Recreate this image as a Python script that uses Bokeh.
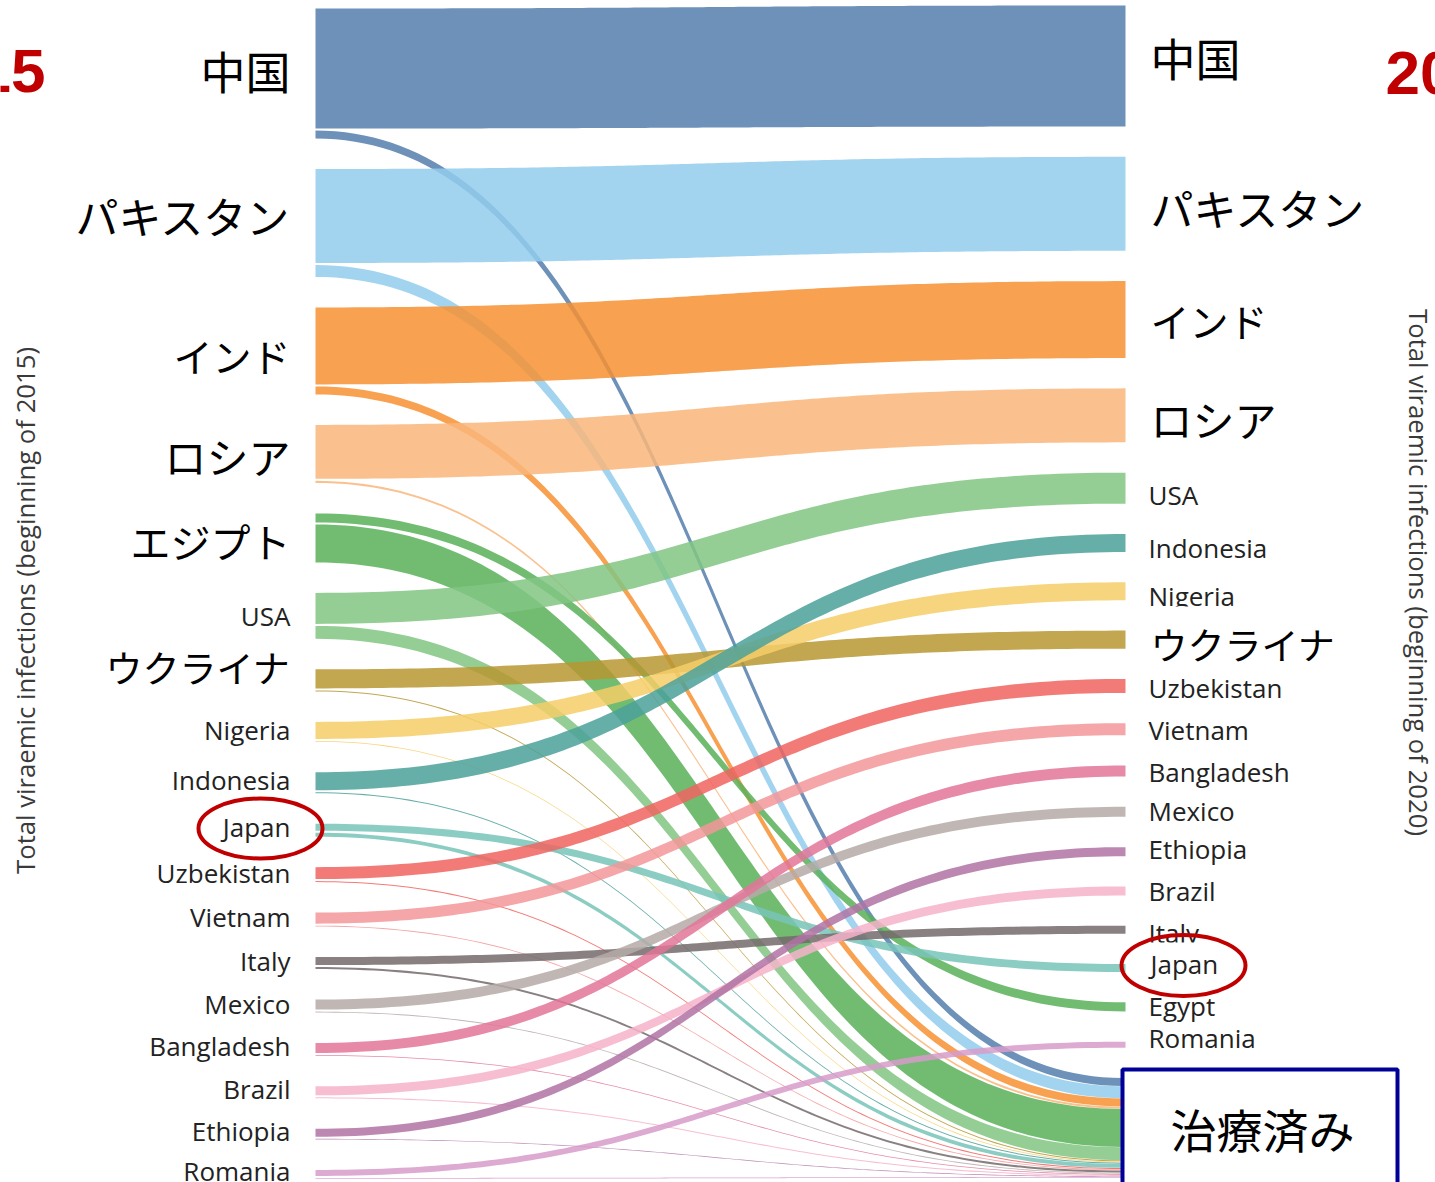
import numpy as np
from bokeh.plotting import figure
from bokeh.models import Range1d, ColumnDataSource
from bokeh.core.properties import value
from bokeh.embed import file_html
from bokeh.resources import INLINE

# ---------------- data (millions of viraemic HCV infections) ----------------
countries_2015 = ["China", "Pakistan", "India", "Russia", "Egypt", "USA", "Ukraine", "Nigeria",
                  "Indonesia", "Japan", "Uzbekistan", "Vietnam", "Italy", "Mexico", "Bangladesh",
                  "Brazil", "Ethiopia", "Romania"]
# part of the 2015 infections still viraemic in 2020 (left end of each band)
remaining_2015 = [9.45, 7.40, 6.06, 4.25, 0.71, 2.44, 1.50, 1.34, 1.42, 0.55, 0.94, 0.87,
                  0.63, 0.79, 0.79, 0.71, 0.63, 0.47]
# part treated between 2015 and 2020
treated_2015_2020 = [0.63, 0.94, 0.63, 0.16, 2.99, 1.02, 0.08, 0.06, 0.08, 0.31, 0.08, 0.07,
                     0.16, 0.07, 0.06, 0.08, 0.05, 0.06]

countries_2020 = ["China", "Pakistan", "India", "Russia", "USA", "Indonesia", "Nigeria", "Ukraine",
                  "Uzbekistan", "Vietnam", "Bangladesh", "Mexico", "Ethiopia", "Brazil", "Italy",
                  "Japan", "Egypt", "Romania"]
viraemic_2020 = [9.53, 7.40, 6.06, 4.25, 2.44, 1.42, 1.42, 1.42, 1.10, 0.94, 0.87, 0.79,
                 0.71, 0.71, 0.63, 0.63, 0.71, 0.47]

labels_ja_left = {"China": "中国", "Pakistan": "パキスタン", "India": "インド", "Russia": "ロシア",
                  "Egypt": "エジプト", "Ukraine": "ウクライナ"}
labels_ja_right = {"China": "中国", "Pakistan": "パキスタン", "India": "インド", "Russia": "ロシア",
                   "Ukraine": "ウクライナ"}
treated_label = "治療済み"
year_left, year_right = "2015", "2020"
axis_left = "Total viraemic infections (beginning of 2015)"
axis_right = "Total viraemic infections (beginning of 2020)"

colors = {"China": "#6E91B8", "Pakistan": "#A3D4EF", "India": "#F7A152", "Russia": "#FAC18F",
          "Egypt": "#72BC72", "USA": "#94CE96", "Ukraine": "#C2A650", "Nigeria": "#F6D57E",
          "Indonesia": "#66AFA9", "Japan": "#8CCDC3", "Uzbekistan": "#F27B78", "Vietnam": "#F5A6A8",
          "Italy": "#898081", "Mexico": "#C0B7B5", "Bangladesh": "#E68AA8", "Brazil": "#F7BED2",
          "Ethiopia": "#BC88B2", "Romania": "#DDAAD2"}

# ---------------- layout / style ----------------
K = 12.7            # pixels per million
ALPHA = 0.85
W, H = 1435, 1182


def Y(px):
    return px / K


def solid(hexc, a=ALPHA):
    rgb = [int(hexc[i:i + 2], 16) for i in (1, 3, 5)]
    return "#%02x%02x%02x" % tuple(max(0, min(255, round((c - 255 * (1 - a)) / a))) for c in rgb)


X_L, X_R = 315, 1125
gap_l, inner_l = Y(30.5), Y(2.0)
gap_r, inner_r = Y(30.3), Y(0.25)

ja_size = {"中国": 45, "パキスタン": 43, "インド": 39, "ロシア": 42, "エジプト": 40, "ウクライナ": 37}
left_dy = {"China": -3, "Pakistan": -8, "India": 4, "Russia": 2, "Egypt": 3, "USA": 0,
           "Ukraine": -13, "Nigeria": -2, "Uzbekistan": -2, "Italy": -2, "Mexico": -2}
right_dy = {"China": -14, "Pakistan": -2, "India": -5, "Russia": -2, "USA": 7, "Indonesia": 5,
            "Nigeria": 5, "Ukraine": -1, "Uzbekistan": 2, "Vietnam": 1, "Bangladesh": 1,
            "Mexico": -1, "Ethiopia": -3, "Brazil": 0, "Italy": 3, "Japan": -6, "Egypt": -1,
            "Romania": -7}

rem = dict(zip(countries_2015, remaining_2015))
trt = dict(zip(countries_2015, treated_2015_2020))
v20 = dict(zip(countries_2020, viraemic_2020))

ltop, lcen = {}, {}
y = Y(8)
for c in countries_2015:
    ltop[c] = y
    tot = rem[c] + inner_l + trt[c]
    lcen[c] = y + tot / 2
    y += tot + gap_l

rtop, rcen = {}, {}
y = Y(5)
for c in countries_2020:
    rtop[c] = y
    rcen[c] = y + v20[c] / 2
    y += v20[c] + gap_r
ttop = {}
for c in countries_2015:
    ttop[c] = y
    y += trt[c] + inner_r

t = np.linspace(0, 1, 120)


def band(x0, x1, y0a, y0b, y1a, y1b):
    xm = (x0 + x1) / 2
    bx = (1 - t) ** 3 * x0 + 3 * (1 - t) ** 2 * t * xm + 3 * (1 - t) * t ** 2 * xm + t ** 3 * x1
    s = 3 * t ** 2 - 2 * t ** 3
    ya = y0a + (y1a - y0a) * s
    yb = y0b + (y1b - y0b) * s
    return list(bx) + list(bx[::-1]), list(ya) + list(yb[::-1])


xs, ys, fc = [], [], []
for c in countries_2015:
    a, b = band(X_L, X_R, ltop[c], ltop[c] + rem[c], rtop[c], rtop[c] + v20[c])
    xs.append(a); ys.append(b); fc.append(solid(colors[c]))
    y0 = ltop[c] + rem[c] + inner_l
    a, b = band(X_L, X_R - 3, y0, y0 + trt[c], ttop[c], ttop[c] + trt[c])
    xs.append(a); ys.append(b); fc.append(solid(colors[c]))

p = figure(width=W, height=H, x_range=Range1d(0, W), y_range=Range1d(Y(H), Y(0)),
           output_backend="svg", toolbar_location=None, min_border=0,
           x_axis_location=None, y_axis_location=None)
p.grid.visible = False
p.outline_line_color = None
p.background_fill_color = "white"

p.patches(xs="xs", ys="ys", fill_color="fc", source=ColumnDataSource(dict(xs=xs, ys=ys, fc=fc)),
          fill_alpha=ALPHA, line_color=None)

EN_FONT = value("Open Sans")
JA_FONT = value("Noto Sans CJK JP")
EN_SIZE = "26px"
EN_COLOR = "#222222"


def en_labels(names, centers, dy, x, align, **kw):
    src = ColumnDataSource(dict(x=[x] * len(names),
                                y=[centers[c] + Y(dy.get(c, -3)) for c in names], text=names))
    p.text(x="x", y="y", text="text", source=src, text_align=align, text_baseline="middle",
           text_font=EN_FONT, text_font_size=EN_SIZE, text_color=EN_COLOR, **kw)


def ja_label(c, centers, dy, x, align, labels, **kw):
    lab = labels[c]
    p.text(x=[x], y=[centers[c] + Y(dy.get(c, -3))], text=[lab], text_align=align,
           text_baseline="middle", text_font=JA_FONT, text_font_size="%dpx" % ja_size[lab],
           text_color="black", **kw)


# left labels
en_labels([c for c in countries_2015 if c not in labels_ja_left], lcen, left_dy, 290, "right")
for c in labels_ja_left:
    ja_label(c, lcen, left_dy, 290, "right", labels_ja_left)

# right labels ("Japan" is drawn with a white box hiding the lower part of "Italy",
# "ウクライナ" with a white box hiding the bottom of "Nigeria")
group_a = [c for c in countries_2020 if c not in labels_ja_right and c not in ("Japan", "Egypt", "Romania")]
en_labels(group_a, rcen, right_dy, 1148, "left")
en_labels(["Japan"], rcen, right_dy, 1148, "left", background_fill_color="white",
          padding=dict(left=2, right=2, top=3, bottom=0))
en_labels(["Egypt", "Romania"], rcen, right_dy, 1148, "left")
for c in labels_ja_right:
    ja_label(c, rcen, right_dy, 1148, "left", labels_ja_right, background_fill_color="white",
             padding=dict(left=2, right=2, top=10, bottom=0))

# axis titles
p.text(x=[25], y=[Y(610)], text=[axis_left], angle=np.pi / 2, text_align="center",
       text_baseline="middle", text_font=EN_FONT, text_font_size="25.7px", text_color="#3a3a3a")
p.text(x=[1418], y=[Y(572)], text=[axis_right], angle=-np.pi / 2, text_align="center",
       text_baseline="middle", text_font=EN_FONT, text_font_size="25.7px", text_color="#3a3a3a")

# years
p.text(x=[45], y=[Y(70)], text=[year_left], text_align="right", text_baseline="middle",
       text_font=value("Liberation Sans"), text_font_style="bold", text_font_size="62px",
       text_color="#C00000")
p.text(x=[1385], y=[Y(72)], text=[year_right], text_align="left", text_baseline="middle",
       text_font=value("Liberation Sans"), text_font_style="bold", text_font_size="62px",
       text_color="#C00000")

# treated box
p.quad(left=[1122], right=[1397], top=[Y(1069)], bottom=[Y(1205)], fill_color="white",
       line_color="#000099", line_width=4)
p.text(x=[1262], y=[Y(1127)], text=[treated_label], text_align="center", text_baseline="middle",
       text_font=JA_FONT, text_font_size="46px", text_color="black")

# red ellipses around Japan
p.ellipse(x=[260, 1183], y=[Y(828), Y(965)], width=[124, 124], height=[Y(60), Y(61)],
          fill_color=None, line_color="#C00000", line_width=4)

open("out.html", "w").write(file_html(p, INLINE))
